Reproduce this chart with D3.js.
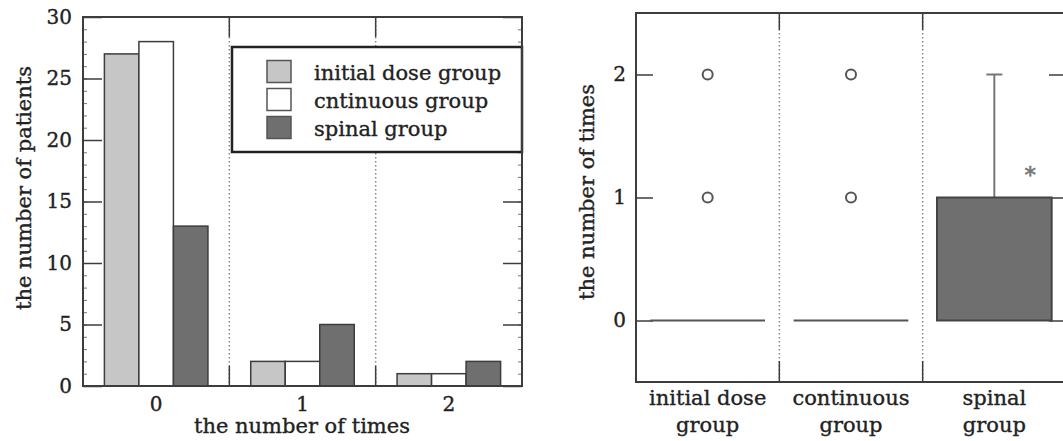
<!DOCTYPE html>
<html>
<head>
<meta charset="utf-8">
<script src="https://cdn.jsdelivr.net/npm/d3@7"></script>
<style>
  body { margin: 0; background: #fff; }
  svg { display: block; font-family: "DejaVu Serif", serif; }
</style>
</head>
<body>
<div id="chart"></div>
<script>
// left panel: counts of patients per number of times
const categories = ["0", "1", "2"];
const seriesNames = ["initial dose group", "cntinuous group", "spinal group"];
const initialDose = [27, 2, 1];
const continuous = [28, 2, 1];
const spinal = [13, 5, 2];
const yTicksLeft = [0, 5, 10, 15, 20, 25, 30];

// right panel: box plot per group
const boxGroups = ["initial dose|group", "continuous|group", "spinal|group"];
const boxQ1 = [0, 0, 0];
const boxMedian = [0, 0, 0];
const boxQ3 = [0, 0, 1];
const whiskerLow = [0, 0, 0];
const whiskerHigh = [0, 0, 2];
const outliers = [[1, 2], [1, 2], []];
const significant = [false, false, true];
const yTicksRight = [0, 1, 2];

const W = 1063, H = 441;
const lightFill = "#c6c6c6", darkFill = "#6f6f6f", frameCol = "#3d3d3d";
const fills = [lightFill, "#ffffff", darkFill];

const svg = d3.select("#chart").append("svg")
    .attr("width", W).attr("height", H);

// ---------- left chart ----------
const L = { left: 83, right: 522, top: 17, bottom: 386 };
const x0 = d3.scaleBand().domain(categories).range([L.left, L.right]);
const x1 = d3.scaleBand().domain(seriesNames).range([0, x0.bandwidth()]).paddingOuter(0.62).paddingInner(0);
const yL = d3.scaleLinear().domain([0, 30]).range([L.bottom, L.top]);

const gL = svg.append("g");

// dividers between categories
categories.slice(0, -1).forEach(function(c) {
    const xx = x0(c) + x0.bandwidth();
    gL.append("line").attr("x1", xx).attr("x2", xx).attr("y1", L.top).attr("y2", L.bottom)
        .attr("stroke", "#888").attr("stroke-width", 1.5).attr("stroke-dasharray", "1.5,2.5");
    gL.append("line").attr("x1", xx).attr("x2", xx).attr("y1", L.top).attr("y2", L.top + 20)
        .attr("stroke", frameCol).attr("stroke-width", 1.5);
    gL.append("line").attr("x1", xx).attr("x2", xx).attr("y1", L.bottom - 20).attr("y2", L.bottom)
        .attr("stroke", frameCol).attr("stroke-width", 1.5);
});

// minor ticks on both sides
[d3.axisLeft(yL), d3.axisRight(yL)].forEach(function(ax, i) {
    const xx = i === 0 ? L.left : L.right;
    const minor = gL.append("g").attr("transform", "translate(" + xx + ",0)")
        .call(ax.ticks(30).tickSize(-4).tickFormat(""));
    minor.select(".domain").remove();
    minor.selectAll("line").attr("stroke", "#777").attr("stroke-width", 1);
});

const table = categories.map(function(c, i) {
    return { cat: c, values: [initialDose[i], continuous[i], spinal[i]] };
});

table.forEach(function(row) {
    row.values.forEach(function(v, k) {
        gL.append("rect")
            .attr("x", x0(row.cat) + x1(seriesNames[k]))
            .attr("y", yL(v))
            .attr("width", x1.bandwidth())
            .attr("height", yL(0) - yL(v))
            .attr("fill", fills[k])
            .attr("stroke", frameCol)
            .attr("stroke-width", 1.5);
    });
});

// legend
const leg = { x: 232, y: 47, w: L.right - 232, h: 105 };
gL.append("rect").attr("x", leg.x).attr("y", leg.y).attr("width", leg.w).attr("height", leg.h)
    .attr("fill", "#fff").attr("stroke", "#222").attr("stroke-width", 2.5);
seriesNames.forEach(function(name, k) {
    const cy = 71.5 + k * 28;
    gL.append("rect").attr("x", 267).attr("y", cy - 11).attr("width", 24).attr("height", 22)
        .attr("fill", fills[k]).attr("stroke", "#555").attr("stroke-width", 1.5);
    gL.append("text").attr("x", 314).attr("y", cy + 8).attr("font-size", "21px").attr("fill", "#222")
        .text(name);
});

// major ticks
const majL = gL.append("g").attr("transform", "translate(" + L.left + ",0)")
    .call(d3.axisLeft(yL).tickValues(yTicksLeft).tickSize(-19).tickPadding(11));
majL.select(".domain").remove();
majL.selectAll("line").attr("stroke", frameCol).attr("stroke-width", 1.5);
majL.selectAll("text").attr("font-family", "DejaVu Serif").attr("font-size", "20px").attr("fill", "#222");

const majR = gL.append("g").attr("transform", "translate(" + L.right + ",0)")
    .call(d3.axisRight(yL).tickValues(yTicksLeft.filter(function(t) { return yL(t) > leg.y + leg.h || yL(t) < leg.y; }))
        .tickSize(-19).tickFormat(""));
majR.select(".domain").remove();
majR.selectAll("line").attr("stroke", frameCol).attr("stroke-width", 1.5);

// frame
gL.append("rect").attr("x", L.left).attr("y", L.top).attr("width", L.right - L.left).attr("height", L.bottom - L.top)
    .attr("fill", "none").attr("stroke", frameCol).attr("stroke-width", 2);

const axB = gL.append("g").attr("transform", "translate(0," + L.bottom + ")")
    .call(d3.axisBottom(x0).tickSize(0).tickPadding(11));
axB.select(".domain").remove();
axB.selectAll("text").attr("font-family", "DejaVu Serif").attr("font-size", "20px").attr("fill", "#222");

gL.append("text").attr("x", 302).attr("y", 433).attr("text-anchor", "middle")
    .attr("font-size", "21px").attr("fill", "#222").text("the number of times");
gL.append("text").attr("transform", "translate(31,188) rotate(-90)").attr("text-anchor", "middle")
    .attr("font-size", "21px").attr("fill", "#222").text("the number of patients");

// ---------- right chart ----------
const R = { left: 636, right: 1066, top: 13, bottom: 382 };
const xB = d3.scaleBand().domain(boxGroups).range([R.left, R.right]);
const yR = d3.scaleLinear().domain([-0.5, 2.5]).range([R.bottom, R.top]);
const boxW = xB.bandwidth() * 0.8;

const gR = svg.append("g");

boxGroups.slice(0, -1).forEach(function(c) {
    const xx = xB(c) + xB.bandwidth();
    gR.append("line").attr("x1", xx).attr("x2", xx).attr("y1", R.top).attr("y2", R.bottom)
        .attr("stroke", "#888").attr("stroke-width", 1.5).attr("stroke-dasharray", "1.5,2.5");
    gR.append("line").attr("x1", xx).attr("x2", xx).attr("y1", R.top).attr("y2", R.top + 17)
        .attr("stroke", frameCol).attr("stroke-width", 1.5);
    gR.append("line").attr("x1", xx).attr("x2", xx).attr("y1", R.bottom - 21).attr("y2", R.bottom)
        .attr("stroke", frameCol).attr("stroke-width", 1.5);
});

[d3.axisLeft(yR), d3.axisRight(yR)].forEach(function(ax, i) {
    const xx = i === 0 ? R.left : R.right;
    const a = gR.append("g").attr("transform", "translate(" + xx + ",0)")
        .call(ax.tickValues(yTicksRight).tickSize(-17).tickPadding(10).tickFormat(i === 0 ? d3.format("d") : ""));
    a.select(".domain").remove();
    a.selectAll("line").attr("stroke", frameCol).attr("stroke-width", 1.5);
    a.selectAll("text").attr("font-family", "DejaVu Serif").attr("font-size", "20px").attr("fill", "#222");
});

boxGroups.forEach(function(g, i) {
    const cx = xB(g) + xB.bandwidth() / 2;
    if (whiskerHigh[i] > boxQ3[i]) {
        gR.append("line").attr("x1", cx).attr("x2", cx).attr("y1", yR(boxQ3[i])).attr("y2", yR(whiskerHigh[i]))
            .attr("stroke", "#777").attr("stroke-width", 2);
        gR.append("line").attr("x1", cx - 8).attr("x2", cx + 8).attr("y1", yR(whiskerHigh[i])).attr("y2", yR(whiskerHigh[i]))
            .attr("stroke", "#777").attr("stroke-width", 2);
    }
    if (boxQ3[i] > boxQ1[i]) {
        gR.append("rect").attr("x", cx - boxW / 2).attr("y", yR(boxQ3[i]))
            .attr("width", boxW).attr("height", yR(boxQ1[i]) - yR(boxQ3[i]))
            .attr("fill", darkFill).attr("stroke", "#444").attr("stroke-width", 2);
    } else {
        gR.append("line").attr("x1", cx - boxW / 2).attr("x2", cx + boxW / 2)
            .attr("y1", yR(boxMedian[i])).attr("y2", yR(boxMedian[i]))
            .attr("stroke", "#555").attr("stroke-width", 2);
    }
    outliers[i].forEach(function(v) {
        gR.append("circle").attr("cx", cx).attr("cy", yR(v)).attr("r", 5)
            .attr("fill", "none").attr("stroke", "#555").attr("stroke-width", 2);
    });
    if (significant[i]) {
        gR.append("text").attr("x", cx + 36).attr("y", yR(1.12)).attr("text-anchor", "middle")
            .attr("font-size", "22px").attr("fill", "#777").attr("stroke", "#777").attr("stroke-width", 0.6)
            .text("*");
    }
    const lines = g.split("|");
    const t = gR.append("text").attr("text-anchor", "middle").attr("font-size", "21px").attr("fill", "#222");
    lines.forEach(function(s, j) {
        t.append("tspan").attr("x", cx).attr("y", 405 + j * 27).text(s);
    });
});

gR.append("rect").attr("x", R.left).attr("y", R.top).attr("width", R.right - R.left).attr("height", R.bottom - R.top)
    .attr("fill", "none").attr("stroke", frameCol).attr("stroke-width", 2);

gR.append("text").attr("transform", "translate(594,192) rotate(-90)").attr("text-anchor", "middle")
    .attr("font-size", "21px").attr("fill", "#222").text("the number of times");

// heavier text like the printed figure
svg.selectAll("text").filter(function() { return d3.select(this).attr("fill") === "#222"; })
    .attr("stroke", "#222").attr("stroke-width", 0.35);
</script>
</body>
</html>
